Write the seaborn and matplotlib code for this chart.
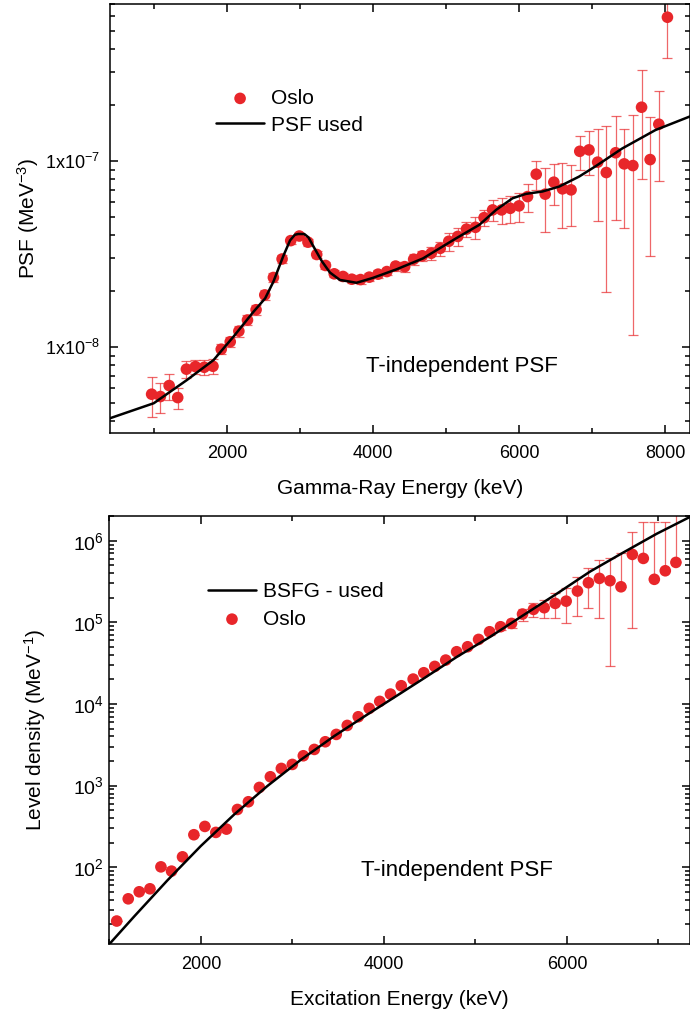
import numpy as np
import seaborn as sns
import matplotlib.pyplot as plt
from matplotlib.ticker import FixedLocator, FixedFormatter, MultipleLocator, LogLocator, NullFormatter

# top panel: Oslo photon strength function
psf_e = [970, 1090, 1210, 1327, 1446, 1569, 1690, 1810, 1923, 2046, 2164, 2282, 2400, 2519,
         2637, 2756, 2874, 2992, 3110, 3230, 3350, 3470, 3590, 3710, 3830, 3950, 4070, 4190,
         4310, 4434, 4557, 4675, 4798, 4921, 5038, 5161, 5280, 5403, 5521, 5638, 5761, 5880,
         5999, 6116, 6235, 6358, 6476, 6594, 6712, 6831, 6957, 7076, 7194, 7322, 7439, 7558,
         7677, 7794, 7913, 8031]
psf_val = [5.59e-9, 5.43e-9, 6.22e-9, 5.36e-9, 7.62e-9, 7.87e-9, 7.80e-9, 7.90e-9, 9.75e-9,
           1.07e-8, 1.22e-8, 1.40e-8, 1.59e-8, 1.91e-8, 2.37e-8, 2.98e-8, 3.74e-8, 3.96e-8,
           3.67e-8, 3.15e-8, 2.75e-8, 2.48e-8, 2.40e-8, 2.32e-8, 2.31e-8, 2.38e-8, 2.47e-8,
           2.55e-8, 2.73e-8, 2.71e-8, 2.97e-8, 3.10e-8, 3.20e-8, 3.40e-8, 3.71e-8, 3.94e-8,
           4.31e-8, 4.41e-8, 4.97e-8, 5.47e-8, 5.47e-8, 5.58e-8, 5.75e-8, 6.45e-8, 8.51e-8,
           6.65e-8, 7.71e-8, 7.10e-8, 7.01e-8, 1.13e-7, 1.15e-7, 9.88e-8, 8.69e-8, 1.11e-7,
           9.67e-8, 9.47e-8, 1.95e-7, 1.02e-7, 1.58e-7, 5.94e-7]
psf_err = [1.35e-9, 1.0e-9, 1.0e-9, 0.7e-9, 0.8e-9, 0.7e-9, 0.7e-9, 0.75e-9, 0.6e-9,
           0.7e-9, 0.8e-9, 0.9e-9, 1.0e-9, 1.1e-9, 1.3e-9, 1.5e-9, 1.6e-9, 1.6e-9,
           1.5e-9, 1.4e-9, 1.2e-9, 1.1e-9, 1.1e-9, 1.1e-9, 1.1e-9, 1.1e-9, 1.2e-9,
           1.2e-9, 1.5e-9, 1.6e-9, 2.0e-9, 2.0e-9, 2.5e-9, 3.0e-9, 4.2e-9, 4.2e-9,
           4.2e-9, 5.9e-9, 5.0e-9, 7.0e-9, 9.0e-9, 9.5e-9, 1.03e-8, 1.1e-8, 1.5e-8,
           2.5e-8, 1.9e-8, 2.7e-8, 2.5e-8, 2.3e-8, 3.1e-8, 5.1e-8, 6.7e-8, 6.3e-8,
           5.3e-8, 8.3e-8, 1.15e-7, 7.1e-8, 8.0e-8, 2.35e-7]

# PSF used in the calculation
fit_e = [400, 1000, 1455, 1818, 2091, 2364, 2524, 2637, 2774, 2865, 2930, 2975, 3060,
         3115, 3200, 3300, 3411, 3547, 3775, 4001, 4320, 4684, 5139, 5457, 5685, 5911,
         6094, 6320, 6548, 6821, 7049, 7412, 7867, 8340]
fit_val = [4.15e-9, 5.0e-9, 6.67e-9, 8.53e-9, 1.14e-8, 1.55e-8, 1.83e-8, 2.25e-8, 3.1e-8,
           3.75e-8, 4.02e-8, 4.06e-8, 4.06e-8, 3.9e-8, 3.4e-8, 2.9e-8, 2.52e-8, 2.30e-8,
           2.22e-8, 2.36e-8, 2.62e-8, 3.0e-8, 3.85e-8, 4.55e-8, 5.47e-8, 6.32e-8, 6.67e-8,
           6.87e-8, 7.3e-8, 8.26e-8, 9.4e-8, 1.17e-7, 1.47e-7, 1.74e-7]

# bottom panel: Oslo level density
rho_e = [1081, 1207, 1327, 1444, 1564, 1680, 1800, 1924, 2044, 2164, 2280, 2400, 2520,
         2640, 2760, 2880, 3000, 3120, 3240, 3360, 3480, 3600, 3720, 3840, 3955, 4072,
         4190, 4320, 4436, 4556, 4676, 4795, 4915, 5035, 5155, 5275, 5395, 5515, 5635,
         5752, 5872, 5992, 6115, 6235, 6355, 6471, 6591, 6715, 6835, 6955, 7075, 7191]
rho_val = [21.9, 41.0, 50.0, 54.4, 101, 89.5, 134, 250, 316, 267, 293, 510, 634, 950,
           1283, 1623, 1817, 2321, 2775, 3445, 4238, 5460, 6975, 8830, 10760, 13220,
           16740, 20200, 24150, 28870, 34530, 43680, 50270, 61830, 76760, 88430, 97100,
           126400, 144300, 151300, 171000, 182000, 242000, 306000, 346000, 324000,
           273000, 681000, 608000, 337000, 429000, 543000]
rho_err = [0, 0, 0, 0, 0, 0, 0, 0, 0, 0, 0, 0, 0, 0, 0, 0, 0, 0, 0, 0, 0, 0, 0, 0, 0, 0,
           0, 0, 0, 0, 0, 0, 0, 0, 6e3, 8e3, 1.2e4, 2.1e4, 2.8e4, 3.9e4, 5.7e4, 8.3e4,
           1.22e5, 1.57e5, 2.34e5, 2.95e5, 4.4e5, 5.95e5, 1.07e6, 1.37e6, 1.25e6, 1.8e6]

# BSFG level density used
bsfg_e = [1000, 1273, 1636, 2000, 2364, 2727, 3091, 3455, 3818, 4182, 4436, 4800, 5163,
          5527, 5891, 6254, 6618, 6982, 7360]
bsfg_val = [11.4, 25.0, 69.2, 182, 442, 988, 2065, 4027, 7413, 13500, 20570, 37930,
            66680, 123000, 225000, 420000, 720000, 1.22e6, 2.0e6]

sns.set_style("ticks")
plt.rcParams['font.family'] = ['Liberation Sans', 'DejaVu Sans']
plt.rcParams['mathtext.default'] = 'regular'
plt.rcParams['axes.linewidth'] = 1.1
for k in ['text.color', 'axes.labelcolor', 'xtick.color', 'ytick.color', 'axes.edgecolor']:
    plt.rcParams[k] = 'black'
red = "#e8262a"

fig = plt.figure(figsize=(6.9, 10.16), dpi=100)
ax1 = fig.add_axes([0.1594, 0.5741, 0.8406, 0.4220])
ax2 = fig.add_axes([0.1584, 0.0713, 0.8416, 0.4208])

# ---- top panel
ax1.errorbar(psf_e, psf_val, yerr=psf_err, fmt='none', ecolor=red, elinewidth=0.9,
             capsize=3.5, capthick=0.9, alpha=0.7, zorder=2)
sns.scatterplot(x=psf_e, y=psf_val, color=red, s=70, edgecolor='none', ax=ax1,
                label='Oslo', zorder=3)
sns.lineplot(x=fit_e, y=fit_val, color='black', lw=1.8, ax=ax1, label='PSF used',
             sort=False, estimator=None, zorder=4)
ax1.set_yscale('log')
ax1.set_xlim(400, 8340)
ax1.set_ylim(3.47e-9, 7.0e-7)
ax1.yaxis.set_major_locator(FixedLocator([1e-8, 1e-7]))
ax1.yaxis.set_major_formatter(FixedFormatter(['1x10$^{-8}$', '1x10$^{-7}$']))
ax1.yaxis.set_minor_locator(LogLocator(base=10, subs=np.arange(2, 10)))
ax1.yaxis.set_minor_formatter(NullFormatter())
ax1.xaxis.set_major_locator(MultipleLocator(2000))
ax1.xaxis.set_minor_locator(MultipleLocator(1000))
ax1.set_xlabel('Gamma-Ray Energy (keV)', fontsize=15, labelpad=12)
ax1.set_ylabel('PSF (MeV$^{-3}$)', fontsize=15, labelpad=3)
ax1.text(0.607, 0.155, 'T-independent PSF', transform=ax1.transAxes, fontsize=16,
         ha='center', va='center')
h, l = ax1.get_legend_handles_labels()
ax1.legend(h, l, loc='upper left', bbox_to_anchor=(0.183, 0.802), frameon=False,
           fontsize=15, handlelength=2.3, handletextpad=0.35, borderpad=0,
           borderaxespad=0, labelspacing=0.38)

# ---- bottom panel
rho_lo = [e if e < v else 0 for e, v in zip(rho_err, rho_val)]
ax2.errorbar(rho_e, rho_val, yerr=[rho_lo, rho_err], fmt='none', ecolor=red,
             elinewidth=0.9, capsize=3.5, capthick=0.9, alpha=0.7, zorder=2)
sns.lineplot(x=bsfg_e, y=bsfg_val, color='black', lw=1.8, ax=ax2, label='BSFG - used',
             sort=False, estimator=None, zorder=4)
sns.scatterplot(x=rho_e, y=rho_val, color=red, s=70, edgecolor='none', ax=ax2,
                label='Oslo', zorder=3)
ax2.set_yscale('log')
ax2.set_xlim(1000, 7345)
ax2.set_ylim(11.6, 2.01e6)
ax2.yaxis.set_major_locator(LogLocator(base=10, numticks=10))
ax2.yaxis.set_minor_locator(LogLocator(base=10, subs=np.arange(2, 10), numticks=20))
ax2.yaxis.set_minor_formatter(NullFormatter())
ax2.xaxis.set_major_locator(MultipleLocator(2000))
ax2.xaxis.set_minor_locator(MultipleLocator(1000))
ax2.set_xlabel('Excitation Energy (keV)', fontsize=15, labelpad=12)
ax2.set_ylabel('Level density (MeV$^{-1}$)', fontsize=15, labelpad=17.5)
ax2.text(0.599, 0.170, 'T-independent PSF', transform=ax2.transAxes, fontsize=16,
         ha='center', va='center')
h, l = ax2.get_legend_handles_labels()
ax2.legend(h, l, loc='upper left', bbox_to_anchor=(0.170, 0.846), frameon=False,
           fontsize=15, handlelength=2.3, handletextpad=0.35, borderpad=0,
           borderaxespad=0, labelspacing=0.42)

for ax, ysize, ypad in [(ax1, 13, 7), (ax2, 14, 4)]:
    ax.tick_params(which='both', direction='in', top=True, right=True, width=1.1)
    ax.tick_params(which='major', length=6)
    ax.tick_params(which='minor', length=3.5)
    ax.tick_params(axis='x', labelsize=13, pad=9)
    ax.tick_params(axis='y', labelsize=ysize, pad=ypad)

fig.savefig('out.png', dpi=100)
